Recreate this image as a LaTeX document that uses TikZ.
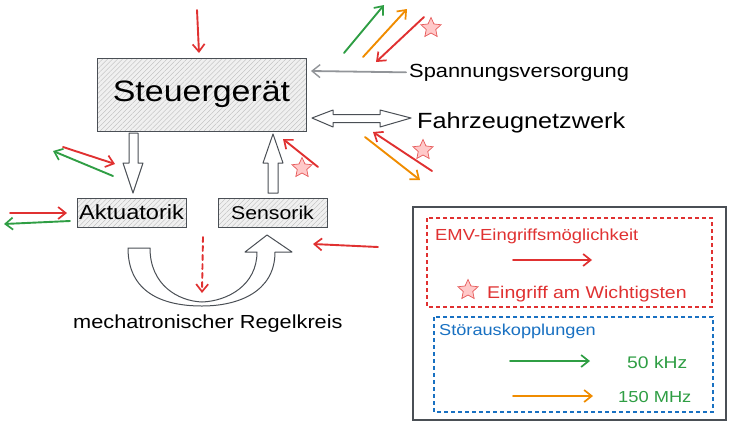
\documentclass[tikz,border=0pt]{standalone}
\usepackage{fontspec}
\setmainfont{Liberation Sans}[FakeStretch=1.15]
\usetikzlibrary{arrows.meta,patterns.meta,shapes.geometric}
\definecolor{exred}{HTML}{E03131}
\definecolor{exgreen}{HTML}{2F9E44}
\definecolor{exorange}{HTML}{F08C00}
\definecolor{exblue}{HTML}{1971C2}
\definecolor{exgray}{HTML}{4A4F55}
\definecolor{starfill}{HTML}{FFC9C9}
\newcommand{\fs}[1]{\fontsize{#1}{#1}\selectfont}
\tikzset{
  ar/.style={line width=1.9pt, line cap=round,
    -{Straight Barb[length=7.5pt,width=12pt,line width=1.7pt]}},
  hatchbox/.style={draw=exgray, line width=1pt, preaction={fill=gray!12},
    pattern={Lines[angle=45,distance=3.5pt,line width=0.35pt]}, pattern color=gray!55,
    inner sep=0pt},
  estar/.style={star, star points=5, star point ratio=2.1, draw=exred!80,
    fill=starfill, line width=0.7pt, minimum size=21pt, inner sep=0pt},
  blockarrow/.style={draw=exgray, line width=1pt, fill=white, line join=round},
  lbl/.style={anchor=base west, inner sep=0pt},
  dbox/.style={line width=1.2pt, dash pattern=on 4pt off 3pt},
}
\begin{document}
\begin{tikzpicture}[x=1pt,y=-1pt]
\useasboundingbox (0,0) rectangle (735,429);

% main boxes
\node[hatchbox, minimum width=209pt, minimum height=73pt, text height=20pt, text depth=6pt]
  (sg) at (201.5,94.5) {\fs{29.5}Steuergerät};
\node[hatchbox, minimum width=109pt, minimum height=29pt, text height=14pt, text depth=1pt]
  (akt) at (131.5,212.5) {\fs{20.5}Aktuatorik};
\node[hatchbox, minimum width=109pt, minimum height=29pt, text height=14pt, text depth=1pt]
  (sen) at (272.5,212.5) {\fs{18.5}Sensorik};

% outer labels
\node[lbl] (sv) at (409,77) {\fs{19}Spannungsversorgung};
\node[lbl] (fn) at (417,128) {\fs{22}Fahrzeugnetzwerk};
\node[lbl] (rk) at (73,328) {\fs{18.9}mechatronischer Regelkreis};

% Spannungsversorgung arrow
\draw[exgray!60, line width=1.8pt, line cap=round,
  -{Straight Barb[length=8pt,width=13pt,line width=1.4pt]}]
  (sv.west) ++(-3,0) -- (311,71);

% Fahrzeugnetzwerk double block arrow
\draw[blockarrow] (312,118) -- (333,110) -- (333,114.5) -- (380,114.5) -- (380,110)
  -- (411,118) -- (380,127) -- (380,122.5) -- (333,122.5) -- (333,127) -- cycle;

% block arrow Steuergeraet -> Aktuatorik
\draw[blockarrow] (129,133) -- (138,133) -- (138,163) -- (143,163) -- (133,193)
  -- (123,163) -- (129,163) -- cycle;
% block arrow Sensorik -> Steuergeraet
\draw[blockarrow] (268,193) -- (278,193) -- (278,163) -- (283,163) -- (273,134)
  -- (263,163) -- (268,163) -- cycle;

% regulating loop arrow
\draw[blockarrow] (128,248) -- (150,248) .. controls (150,285) and (178,301) .. (202,302)
  .. controls (228,301) and (257,285) .. (257,252) -- (245,252) -- (267,235) -- (292,252)
  -- (275,252) .. controls (275,292) and (238,306) .. (202,306)
  .. controls (162,306) and (128,292) .. (128,248) -- cycle;

% EMV arrows
\coordinate (a1s) at (197,10);  \coordinate (a1e) at (199,53);
\draw[ar, exred] (a1s) -- (a1e);

\coordinate (g1s) at (344,53);  \coordinate (g1e) at (384,5);
\draw[ar, exgreen] (g1s) -- (g1e);
\coordinate (o1s) at (363,57);  \coordinate (o1e) at (407,9);
\draw[ar, exorange] (o1s) -- (o1e);
\coordinate (r1s) at (424,17);  \coordinate (r1e) at (376,62);
\draw[ar, exred] (r1s) -- (r1e);
\node[estar] (s1) at (431,28) {};

\coordinate (r2s) at (432,171); \coordinate (r2e) at (373,132);
\draw[ar, exred] (r2s) -- (r2e);
\coordinate (o2s) at (365,137); \coordinate (o2e) at (420,180);
\draw[ar, exorange] (o2s) -- (o2e);
\node[estar] (s2) at (423,150) {};

\coordinate (r3s) at (318,167); \coordinate (r3e) at (283,139);
\draw[ar, exred] (r3s) -- (r3e);
\node[estar] (s3) at (302,168) {};

\coordinate (r4s) at (63,147);  \coordinate (r4e) at (115,164);
\draw[ar, exred] (r4s) -- (r4e);
\coordinate (g4s) at (113,176); \coordinate (g4e) at (53,151);
\draw[ar, exgreen] (g4s) -- (g4e);

\coordinate (r5s) at (10,213);  \coordinate (r5e) at (67,213);
\draw[ar, exred] (r5s) -- (r5e);
\coordinate (g5s) at (70,221);  \coordinate (g5e) at (4,224);
\draw[ar, exgreen] (g5s) -- (g5e);

\coordinate (r6s) at (378,247); \coordinate (r6e) at (313,244);
\draw[ar, exred] (r6s) -- (r6e);

\coordinate (d1s) at (203,237); \coordinate (d1e) at (202,293);
\draw[ar, exred, dash pattern=on 5pt off 4pt] (d1s) -- (d1e);

% legend
\draw[exgray, line width=1.4pt, fill=white] (413,207) rectangle (726,420);
\draw[dbox, exred] (427,218) rectangle (712,307);
\draw[dbox, exblue] (434,317) rectangle (713,412);
\node[lbl, text=exred] (l1) at (435,240) {\fs{16}EMV-Eingriffsmöglichkeit};
\coordinate (lr1s) at (513,260); \coordinate (lr1e) at (592,260);
\draw[ar, exred] (lr1s) -- (lr1e);
\node[estar] (ls) at (468,290) {};
\node[lbl, text=exred] (l2) at (487,298) {\fs{17}Eingriff am Wichtigsten};
\node[lbl, text=exblue] (l3) at (439,335) {\fs{15.8}Störauskopplungen};
\coordinate (lg1s) at (510,361); \coordinate (lg1e) at (590,361);
\draw[ar, exgreen] (lg1s) -- (lg1e);
\node[lbl, text=exgreen] (l4) at (627,368) {\fs{16.8}50 kHz};
\coordinate (lo1s) at (513,396); \coordinate (lo1e) at (593,396);
\draw[ar, exorange] (lo1s) -- (lo1e);
\node[lbl, text=exgreen] (l5) at (618,402) {\fs{15.9}150 MHz};
\end{tikzpicture}
\end{document}
